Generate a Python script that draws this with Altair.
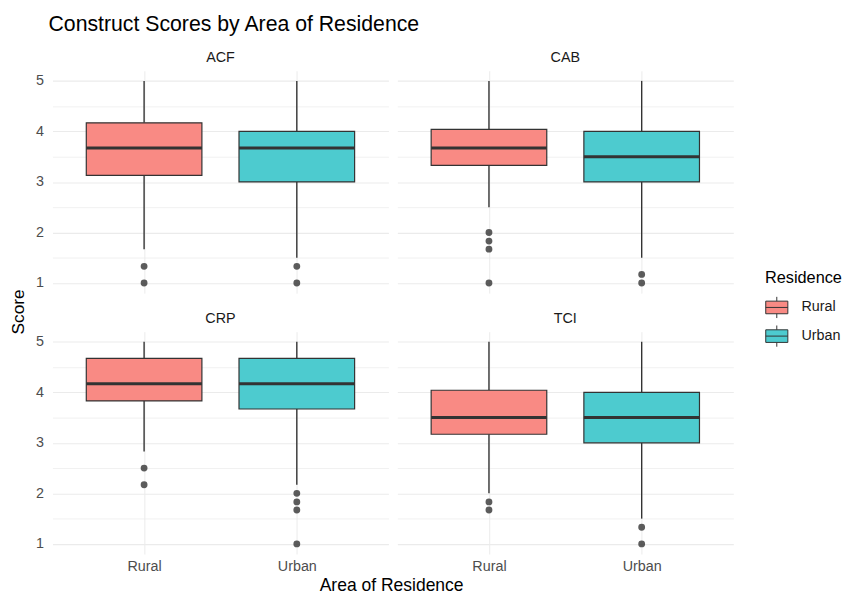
import altair as alt
import pandas as pd

# ---- data ----
constructs = ["ACF", "CAB", "CRP", "TCI"]
groups = ["Rural", "Urban"]

box_construct = ["ACF", "ACF", "CAB", "CAB", "CRP", "CRP", "TCI", "TCI"]
box_group = ["Rural", "Urban", "Rural", "Urban", "Rural", "Urban", "Rural", "Urban"]
whisker_low = [1.67, 1.50, 2.50, 1.50, 2.83, 2.17, 2.00, 1.50]
q1 = [3.13, 3.00, 3.33, 3.00, 3.83, 3.67, 3.17, 3.00]
median = [3.67, 3.67, 3.67, 3.50, 4.17, 4.17, 3.50, 3.50]
q3 = [4.17, 4.00, 4.04, 4.00, 4.67, 4.67, 4.04, 4.00]
whisker_high = [5.0, 5.0, 5.0, 5.0, 5.0, 5.0, 5.0, 5.0]

out_construct = ["ACF", "ACF", "ACF", "ACF",
                 "CAB", "CAB", "CAB", "CAB", "CAB", "CAB",
                 "CRP", "CRP", "CRP", "CRP", "CRP", "CRP",
                 "TCI", "TCI", "TCI", "TCI"]
out_group = ["Rural", "Rural", "Urban", "Urban",
             "Rural", "Rural", "Rural", "Rural", "Urban", "Urban",
             "Rural", "Rural", "Urban", "Urban", "Urban", "Urban",
             "Rural", "Rural", "Urban", "Urban"]
out_value = [1.33, 1.00, 1.33, 1.00,
             2.00, 1.83, 1.67, 1.00, 1.17, 1.00,
             2.50, 2.17, 2.00, 1.83, 1.67, 1.00,
             1.83, 1.67, 1.33, 1.00]

y_ticks = [1, 1.5, 2, 2.5, 3, 3.5, 4, 4.5, 5]
fill_colors = ["#F98A84", "#4DCBCF"]

boxes = pd.DataFrame({"construct": box_construct, "group": box_group,
                      "lo": whisker_low, "q1": q1, "median": median,
                      "q3": q3, "hi": whisker_high})
outs = pd.DataFrame({"construct": out_construct, "group": out_group,
                     "value": out_value})

FONT = "Liberation Sans"
PW, PH = 340, 225
BOXW = 117
DARK = "#333333"

box_path = "M-1,-0.57H1V0.57H-1Z M-1,0H1 M0,-0.57V-0.96 M0,0.57V0.96"
legend = alt.Legend(title="Residence", orient="none", legendX=721, legendY=202,
                    symbolType=box_path, symbolSize=500, symbolStrokeColor=DARK,
                    symbolStrokeWidth=1, symbolOpacity=1,
                    titleFontSize=16.5, titleFontWeight="normal", titleColor="black",
                    labelFontSize=14.5, labelColor="#1A1A1A", rowPadding=3,
                    titlePadding=9, labelOffset=13)
cscale = alt.Scale(domain=groups, range=fill_colors)
xscale = alt.Scale(type="point", padding=0.6, domain=groups)
yscale = alt.Scale(domain=[0.8, 5.2], nice=False, zero=False)

grid_w = {"condition": {"test": "datum.value % 1 !== 0", "value": 0.7}, "value": 1.1}


def panel(c, row, col):
    b = boxes[boxes.construct == c]
    o = outs[outs.construct == c]
    xaxis = alt.Axis(title=None, labels=(row == 1), ticks=False, domain=False,
                     grid=True, labelPadding=6, labelAngle=0)
    yaxis = alt.Axis(title=None, labels=(col == 0), ticks=False, domain=False,
                     grid=True, values=y_ticks, gridWidth=grid_w,
                     labelExpr="datum.value % 1 === 0 ? format(datum.value, 'd') : ''",
                     labelPadding=9)
    x = alt.X("group:N", scale=xscale, axis=xaxis, sort=groups)

    def Y(f):
        return alt.Y(f, type="quantitative", scale=yscale, axis=yaxis)

    base = alt.Chart(b)
    lower = base.mark_rule(color=DARK, strokeWidth=1.4).encode(x=x, y=Y("lo"), y2="q1")
    upper = base.mark_rule(color=DARK, strokeWidth=1.4).encode(x=x, y=Y("q3"), y2="hi")
    box = base.mark_bar(size=BOXW, stroke=DARK, strokeWidth=1.2, opacity=1).encode(
        x=x, y=Y("q1"), y2="q3",
        color=alt.Color("group:N", scale=cscale, legend=legend))
    med = base.mark_tick(size=BOXW, thickness=3, color=DARK, opacity=1).encode(
        x=x, y=Y("median"))
    pts = alt.Chart(o).mark_circle(size=48, color=DARK, opacity=0.8).encode(
        x=x, y=Y("value"))
    return alt.layer(lower, upper, box, med, pts).properties(
        width=PW, height=PH,
        title=alt.TitleParams(text=c, fontSize=14.5, fontWeight="normal",
                              color="#1A1A1A", offset=5, frame="group",
                              anchor="middle"))


row1 = alt.hconcat(panel("ACF", 0, 0), panel("CAB", 0, 1), spacing=9)
row2 = alt.hconcat(panel("CRP", 1, 0), panel("TCI", 1, 1), spacing=9)

levelA = alt.vconcat(row1, row2, spacing=18,
                     title=alt.TitleParams("Score", orient="left", anchor="middle",
                                           fontSize=17.5, fontWeight="normal",
                                           color="black", offset=8))
levelB = alt.vconcat(levelA,
                     title=alt.TitleParams("Area of Residence", orient="bottom",
                                           anchor="middle", fontSize=17.7,
                                           fontWeight="normal", color="black",
                                           offset=4, dx=20))
chart = alt.vconcat(levelB,
                    title=alt.TitleParams("Construct Scores by Area of Residence",
                                          anchor="start", fontSize=21.5,
                                          fontWeight="normal", color="black",
                                          offset=15, frame="group", dx=-4)
                    ).properties(
    padding={"left": 2, "top": 3, "right": 0, "bottom": 0}
).configure(font=FONT).configure_view(stroke=None).configure_axis(
    gridColor="#EBEBEB", labelColor="#4D4D4D", labelFontSize=14.5, labelFont=FONT
).configure_concat(spacing=0)

chart.save("out.html", embed_options={"renderer": "svg", "actions": False})
